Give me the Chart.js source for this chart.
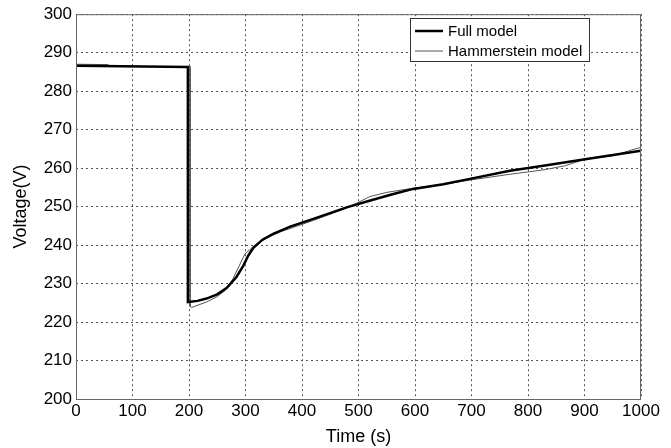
<!DOCTYPE html>
<html lang="en">
<head>
    <meta charset="UTF-8">
    <title>Voltage response</title>
    <script src="https://cdn.jsdelivr.net/npm/chart.js"></script>
    <style>
        html, body { margin: 0; padding: 0; background: #fff; }
        #wrap { width: 671px; height: 448px; }
    </style>
</head>
<body>
    <div id="wrap"><canvas id="myChart" width="671" height="448"></canvas></div>

    <script>
        // Full model (thick black)
        const fullTime = [0, 198, 198, 215, 231, 250, 267, 284, 296, 305, 314, 330, 349, 379, 420, 479, 521, 560, 597, 650, 697, 768, 830, 901, 1000];
        const fullVolt = [286.6, 286.3, 225.2, 225.5, 226.1, 227.2, 228.9, 231.7, 234.6, 237.3, 239.3, 241.4, 242.9, 244.8, 246.8, 249.8, 251.6, 253.2, 254.6, 255.8, 257.2, 259.3, 260.7, 262.3, 264.5];

        // Hammerstein model (thin grey)
        const hamTime = [0, 57, 60, 202, 202, 205, 231, 250, 264, 278, 299, 317, 340, 361, 420, 479, 520, 550, 597, 656, 697, 768, 830, 865, 901, 950, 983, 1000];
        const hamVolt = [287.0, 286.9, 286.4, 286.4, 224.0, 223.8, 225.2, 226.6, 228.2, 231.3, 237.7, 240.0, 242.0, 243.4, 246.4, 249.6, 252.6, 253.7, 254.8, 255.9, 256.9, 258.4, 259.6, 260.6, 262.3, 263.2, 264.7, 265.4];

        const xTicks = { min: 0, max: 1000, step: 100 };
        const yTicks = { min: 200, max: 300, step: 10 };

        const toPoints = (xs, ys) => xs.map((x, i) => ({ x: x, y: ys[i] }));

        // рамка графика и легенда в стиле MATLAB
        const framePlugin = {
            id: 'frame',
            afterDraw(chart) {
                const ctx = chart.ctx;
                const a = chart.chartArea;
                ctx.save();
                ctx.strokeStyle = '#666';
                ctx.lineWidth = 1;
                ctx.strokeRect(a.left + 0.5, a.top + 0.5, a.right - a.left - 1, a.bottom - a.top);

                // legend box
                const bx = 410, by = 18, bw = 179, bh = 43;
                ctx.fillStyle = '#fff';
                ctx.fillRect(bx, by, bw, bh);
                ctx.strokeStyle = '#333';
                ctx.strokeRect(bx + 0.5, by + 0.5, bw, bh);
                ctx.font = '15px "Liberation Sans", Arial, sans-serif';
                ctx.textBaseline = 'middle';
                ctx.fillStyle = '#000';
                chart.data.datasets.forEach((ds, i) => {
                    const ly = by + 13 + i * 20;
                    ctx.strokeStyle = ds.borderColor;
                    ctx.lineWidth = ds.borderWidth;
                    ctx.beginPath();
                    ctx.moveTo(bx + 5, ly);
                    ctx.lineTo(bx + 33, ly);
                    ctx.stroke();
                    ctx.fillText(ds.label, bx + 38, ly + 1);
                });
                ctx.restore();
            }
        };

        const tickFont = { family: '"Liberation Sans", Arial, sans-serif', size: 17 };
        const titleFont = { family: '"Liberation Sans", Arial, sans-serif', size: 18 };

        const ctx = document.getElementById('myChart').getContext('2d');
        const chart = new Chart(ctx, {
            type: 'line',
            data: {
                datasets: [
                    {
                        label: 'Full model',
                        data: toPoints(fullTime, fullVolt),
                        borderColor: '#000',
                        borderWidth: 2.5,
                        pointRadius: 0,
                        tension: 0,
                        fill: false,
                    },
                    {
                        label: 'Hammerstein model',
                        data: toPoints(hamTime, hamVolt),
                        borderColor: '#555',
                        borderWidth: 1,
                        pointRadius: 0,
                        tension: 0,
                        fill: false,
                    },
                ],
            },
            options: {
                responsive: false,
                animation: false,
                layout: { padding: { top: 13, right: 30, left: 0, bottom: 0 } },
                plugins: {
                    legend: { display: false },
                    tooltip: { enabled: false },
                },
                scales: {
                    x: {
                        type: 'linear',
                        min: xTicks.min,
                        max: xTicks.max,
                        ticks: {
                            stepSize: xTicks.step,
                            color: '#000',
                            padding: 2,
                            maxRotation: 0,
                            font: tickFont,
                            callback: (v) => String(v),
                        },
                        grid: { color: '#555', drawTicks: false, tickLength: 0 },
                        border: { display: false, dash: [2, 3] },
                        title: {
                            display: true,
                            text: 'Time (s)',
                            color: '#000',
                            padding: { top: 0, bottom: 0 },
                            font: titleFont,
                        },
                        afterFit(scale) { scale.height = 49; },
                    },
                    y: {
                        min: yTicks.min,
                        max: yTicks.max,
                        ticks: {
                            stepSize: yTicks.step,
                            color: '#000',
                            padding: 4,
                            font: tickFont,
                            callback: (v) => String(v),
                        },
                        grid: { color: '#555', drawTicks: false, tickLength: 0 },
                        border: { display: false, dash: [2, 3] },
                        title: {
                            display: true,
                            text: 'Voltage(V)',
                            color: '#000',
                            padding: { top: 10, bottom: 0 },
                            font: titleFont,
                        },
                        afterFit(scale) { scale.width = 76; },
                    },
                },
            },
            plugins: [framePlugin],
        });
    </script>
</body>
</html>
